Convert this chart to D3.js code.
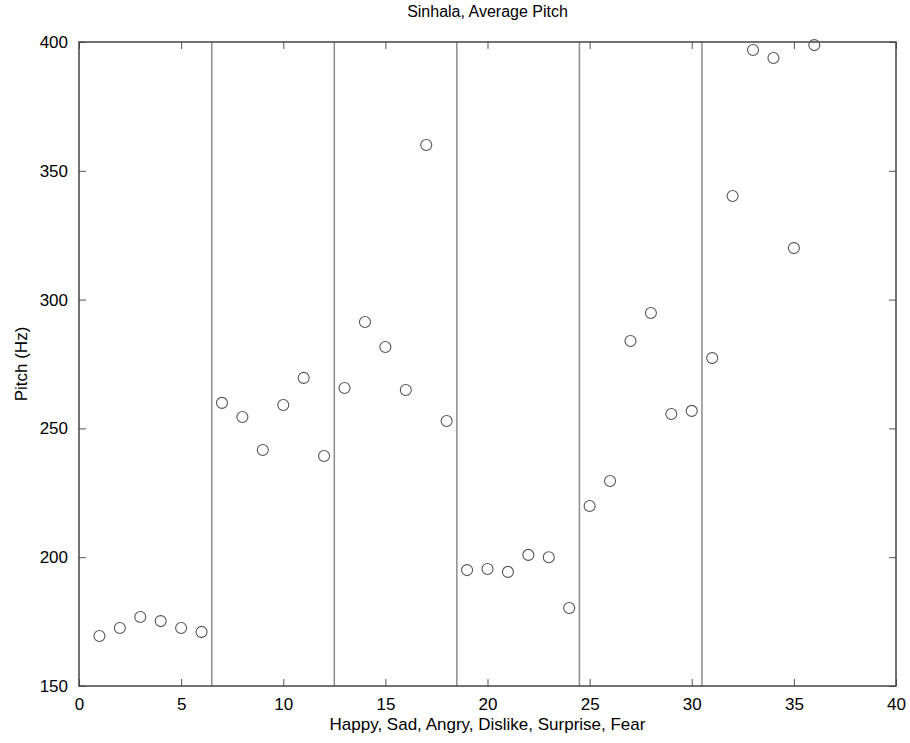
<!DOCTYPE html>
<html>
<head>
<meta charset="utf-8">
<script src="https://d3js.org/d3.v7.min.js"></script>
<style>
  body { margin: 0; background: #fff; }
  svg { font-family: "Liberation Sans", Arial, sans-serif; }
</style>
</head>
<body>
<svg width="910" height="743"></svg>
<script>
// utterance index and average pitch (Hz)
const utterances = d3.range(1, 37);
const pitch = [169.4, 172.5, 176.8, 175.2, 172.5, 171,
               259.9, 254.4, 241.6, 259.1, 269.6, 239.3,
               265.7, 291.3, 281.6, 264.9, 360, 252.9,
               195, 195.4, 194.3, 200.9, 200, 180.3,
               219.9, 229.6, 283.9, 294.8, 255.6, 256.8,
               277.3, 340.2, 396.9, 393.8, 320, 398.8];
const separators = [6.5, 12.5, 18.5, 24.5, 30.5];
const xTicks = [0, 5, 10, 15, 20, 25, 30, 35, 40];
const yTicks = [150, 200, 250, 300, 350, 400];

const svg = d3.select('svg');
const margin = {top: 42, left: 79, right: 14, bottom: 57};
const width = 910, height = 743;
const innerWidth = width - margin.left - margin.right;
const innerHeight = height - margin.top - margin.bottom;

const xScale = d3.scaleLinear().domain([0, 40]).range([0, innerWidth]);
const yScale = d3.scaleLinear().domain([150, 400]).range([innerHeight, 0]);

const g = svg.append('g').attr('transform', `translate(${margin.left}, ${margin.top})`);

// separator lines between emotions
g.selectAll('.sep')
  .data(separators)
  .join('line')
  .attr('class', 'sep')
  .attr('x1', d => xScale(d)).attr('x2', d => xScale(d))
  .attr('y1', 0).attr('y2', innerHeight)
  .attr('stroke', '#8c8c8c')
  .attr('stroke-width', 1.5);

// axes, ticks pointing inward (matlab style)
const tickLen = 7;
const styleAxis = sel => {
  sel.select('.domain').remove();
  sel.selectAll('.tick line').attr('stroke', '#555');
  sel.selectAll('.tick text').attr('fill', '#000').style('font-size', '17px');
};
// mirror axes carry ticks only, no labels
const tickOnly = sel => {
  sel.select('.domain').remove();
  sel.selectAll('.tick line').attr('stroke', '#555');
  sel.selectAll('.tick text').remove();
};

g.append('g')
  .attr('transform', `translate(0, ${innerHeight})`)
  .call(d3.axisBottom(xScale).tickValues(xTicks).tickSizeInner(-tickLen).tickPadding(12).tickSizeOuter(0))
  .call(styleAxis);
g.append('g')
  .call(d3.axisTop(xScale).tickValues(xTicks).tickSizeInner(-tickLen).tickSizeOuter(0))
  .call(tickOnly);
g.append('g')
  .call(d3.axisLeft(yScale).tickValues(yTicks).tickSizeInner(-tickLen).tickPadding(11).tickSizeOuter(0))
  .call(styleAxis);
g.append('g')
  .attr('transform', `translate(${innerWidth}, 0)`)
  .call(d3.axisRight(yScale).tickValues(yTicks).tickSizeInner(-tickLen).tickSizeOuter(0))
  .call(tickOnly);

// frame
g.append('rect')
  .attr('x', 0).attr('y', 0)
  .attr('width', innerWidth).attr('height', innerHeight)
  .attr('fill', 'none')
  .attr('stroke', '#444')
  .attr('stroke-width', 1.5);

// points
g.selectAll('.pt')
  .data(utterances)
  .join('circle')
  .attr('class', 'pt')
  .attr('cx', d => xScale(d))
  .attr('cy', (d, i) => yScale(pitch[i]))
  .attr('r', 5.5)
  .attr('fill', 'none')
  .attr('stroke', '#555')
  .attr('stroke-width', 1.1);

// labels
svg.append('text')
  .attr('x', margin.left + innerWidth / 2)
  .attr('y', 17)
  .attr('text-anchor', 'middle')
  .style('font-size', '16px')
  .text('Sinhala, Average Pitch');

svg.append('text')
  .attr('x', margin.left + innerWidth / 2)
  .attr('y', 730)
  .attr('text-anchor', 'middle')
  .style('font-size', '17px')
  .text('Happy, Sad, Angry, Dislike, Surprise, Fear');

svg.append('text')
  .attr('transform', `translate(27, ${margin.top + innerHeight / 2}) rotate(-90)`)
  .attr('text-anchor', 'middle')
  .style('font-size', '17px')
  .text('Pitch (Hz)');
</script>
</body>
</html>
